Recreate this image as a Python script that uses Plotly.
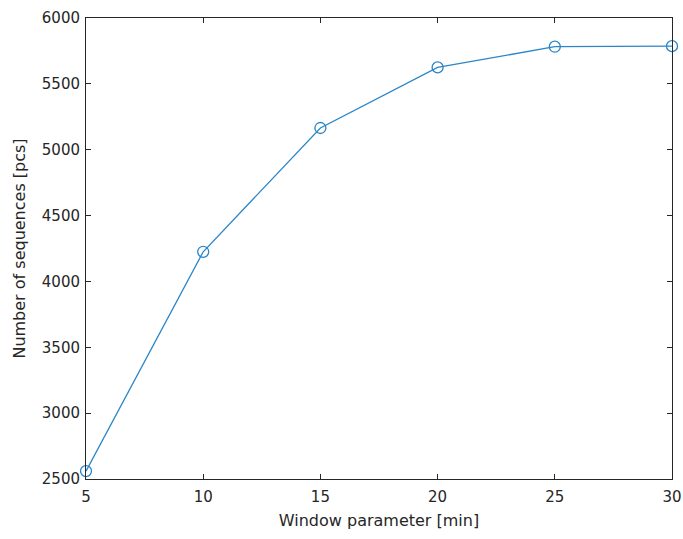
import plotly.graph_objects as go

window_min = [5, 10, 15, 20, 25, 30]
num_sequences = [2560, 4225, 5165, 5625, 5782, 5786]
x_ticks = [5, 10, 15, 20, 25, 30]
y_ticks = [2500, 3000, 3500, 4000, 4500, 5000, 5500, 6000]

axis_color = "#262626"
line_color = "#2a86c8"
font_family = "DejaVu Sans, Arial"

fig = go.Figure(
    go.Scatter(
        x=window_min,
        y=num_sequences,
        mode="lines+markers",
        line=dict(color=line_color, width=1.3),
        marker=dict(symbol="circle-open", size=11, color=line_color,
                    line=dict(width=1.3, color=line_color)),
        cliponaxis=False,
    )
)

axis_common = dict(
    showgrid=False,
    zeroline=False,
    showline=True,
    mirror="ticks",
    linecolor=axis_color,
    linewidth=1,
    ticks="inside",
    ticklen=5,
    tickcolor=axis_color,
    tickfont=dict(family=font_family, size=15, color=axis_color),
)

fig.update_xaxes(
    range=[5, 30],
    tickvals=x_ticks,
    ticklabelstandoff=4,
    title=dict(text="Window parameter [min]",
               font=dict(family=font_family, size=16, color=axis_color),
               standoff=9),
    **axis_common,
)
fig.update_yaxes(
    range=[2500, 6000],
    tickvals=y_ticks,
    ticklabelstandoff=2,
    title=dict(text="Number of sequences [pcs]",
               font=dict(family=font_family, size=16, color=axis_color),
               standoff=12),
    **axis_common,
)

fig.update_layout(
    width=683,
    height=539,
    margin=dict(l=86, r=11, t=18, b=60, autoexpand=False),
    paper_bgcolor="white",
    plot_bgcolor="white",
    showlegend=False,
)

fig.write_html("out.html")
